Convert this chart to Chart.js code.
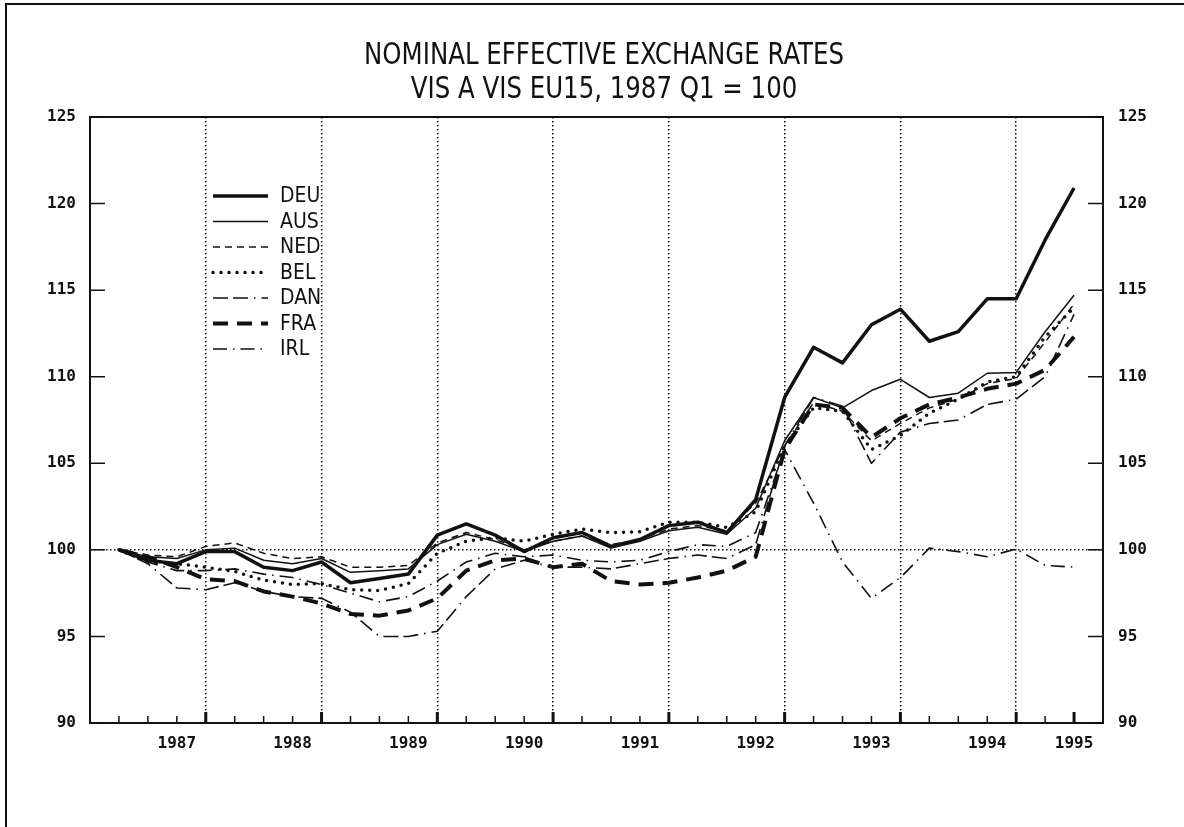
<!DOCTYPE html>
<html>
<head>
<meta charset="utf-8">
<script src="https://cdn.jsdelivr.net/npm/chart.js@4.4.0/dist/chart.umd.min.js"></script>
<style>
  html, body { margin: 0; padding: 0; background: #fff; }
  #wrap { position: relative; width: 1184px; height: 827px; }
</style>
</head>
<body>
<div id="wrap"><canvas id="neerChart" width="1184" height="827"></canvas></div>
<script>
// quarters, 1987 Q1 = 100
const quarters = [
  '1987Q1','1987Q2','1987Q3','1987Q4','1988Q1','1988Q2','1988Q3','1988Q4',
  '1989Q1','1989Q2','1989Q3','1989Q4','1990Q1','1990Q2','1990Q3','1990Q4',
  '1991Q1','1991Q2','1991Q3','1991Q4','1992Q1','1992Q2','1992Q3','1992Q4',
  '1993Q1','1993Q2','1993Q3','1993Q4','1994Q1','1994Q2','1994Q3','1994Q4',
  '1995Q1','1995Q2'
];
const yearLabels = ['1987','1988','1989','1990','1991','1992','1993','1994','1995'];
const yTicks = [90, 95, 100, 105, 110, 115, 120, 125];
const titleLines = ['NOMINAL EFFECTIVE EXCHANGE RATES', 'VIS A VIS EU15, 1987 Q1 = 100'];

const seriesNames = ['DEU', 'AUS', 'NED', 'BEL', 'DAN', 'FRA', 'IRL'];
const deu = [100, 99.4, 99.2, 99.9, 99.9, 99.0, 98.8, 99.3, 98.1, 98.35, 98.6, 100.85, 101.5, 100.85, 99.9, 100.7, 101.0, 100.2, 100.6, 101.4, 101.6, 101.0, 102.9, 108.8, 111.7, 110.8, 113.0, 113.9, 112.05, 112.6, 114.5, 114.5, 117.9, 120.9];
const aus = [100, 99.6, 99.5, 100.0, 100.1, 99.4, 99.2, 99.5, 98.7, 98.8, 98.9, 100.3, 100.9, 100.5, 99.9, 100.5, 100.8, 100.1, 100.5, 101.1, 101.3, 100.9, 102.4, 106.3, 108.8, 108.2, 109.2, 109.85, 108.8, 109.05, 110.2, 110.25, 112.6, 114.7];
const ned = [100, 99.7, 99.6, 100.2, 100.4, 99.8, 99.5, 99.6, 99.0, 99.0, 99.1, 100.4, 101.0, 100.6, 100.0, 100.5, 100.8, 100.3, 100.6, 101.2, 101.4, 101.1, 102.7, 106.0, 108.5, 108.0, 106.3, 107.3, 108.2, 108.7, 109.6, 109.9, 112.0, 114.2];
const bel = [100, 99.3, 99.2, 99.0, 98.75, 98.25, 98.0, 98.05, 97.7, 97.65, 98.05, 99.8, 100.5, 100.7, 100.5, 100.9, 101.2, 101.0, 101.05, 101.6, 101.6, 101.3, 102.2, 106.0, 108.2, 108.0, 105.8, 106.6, 107.9, 108.7, 109.7, 110.0, 112.3, 114.0];
const dan = [100, 99.2, 97.8, 97.7, 98.1, 97.6, 97.3, 97.2, 96.4, 95.0, 95.0, 95.3, 97.3, 98.9, 99.4, 99.0, 99.0, 98.9, 99.2, 99.5, 99.7, 99.5, 100.3, 106.0, 108.8, 108.3, 105.0, 106.8, 107.3, 107.5, 108.4, 108.7, 110.0, 113.6];
const fra = [100, 99.6, 99.0, 98.3, 98.2, 97.6, 97.3, 96.9, 96.3, 96.2, 96.5, 97.2, 98.8, 99.4, 99.5, 99.0, 99.2, 98.2, 98.0, 98.1, 98.4, 98.8, 99.6, 105.8, 108.4, 108.2, 106.5, 107.6, 108.4, 108.8, 109.3, 109.6, 110.4, 112.3];
const irl = [100, 99.3, 98.8, 98.8, 98.9, 98.6, 98.4, 98.0, 97.5, 97.0, 97.3, 98.2, 99.3, 99.8, 99.6, 99.7, 99.4, 99.3, 99.4, 99.9, 100.3, 100.2, 101.0, 105.8, 102.7, 99.3, 97.2, 98.4, 100.1, 99.9, 99.6, 100.05, 99.1, 99.0];
const seriesValues = [deu, aus, ned, bel, dan, fra, irl];

const lineStyles = [
  { width: 3.5, dash: [], cap: 'butt' },
  { width: 1.5, dash: [], cap: 'butt' },
  { width: 1.5, dash: [7, 5], cap: 'butt' },
  { width: 3.5, dash: [0, 8], cap: 'round' },
  { width: 1.6, dash: [15, 5, 15, 6, 1.5, 6], cap: 'butt' },
  { width: 4, dash: [15, 9], cap: 'butt' },
  { width: 1.6, dash: [14, 6, 1.5, 6], cap: 'butt' }
];

// year label sits on Q3, last label on the final quarter; year gridline on Q4
const yearTickAt = yearLabels.map(y => {
  const i = quarters.indexOf(y + 'Q3');
  return i >= 0 ? i : quarters.length - 1;
});
const isGridQuarter = i => quarters[i] && quarters[i].endsWith('Q4');

const tickFont = { family: '"DejaVu Sans Mono", "Liberation Mono", monospace', size: 16, weight: 'bold' };
const narrowFont = '"Liberation Sans Narrow", "DejaVu Sans Condensed", "Arial Narrow", sans-serif';

// title lines share one horizontal squeeze, taken from the first line
function drawTitle(ctx, lines, cx, y0, lineGap, size, firstWidth) {
  ctx.save();
  ctx.font = size + 'px ' + narrowFont;
  const k = firstWidth / ctx.measureText(lines[0]).width;
  ctx.textAlign = 'center';
  ctx.textBaseline = 'middle';
  lines.forEach((t, i) => {
    ctx.save();
    ctx.translate(cx, y0 + i * lineGap);
    ctx.scale(k, 1);
    ctx.fillText(t, 0, 0);
    ctx.restore();
  });
  ctx.restore();
}

const decor = {
  id: 'decor',
  afterDraw(chart) {
    const { ctx, chartArea: a, scales: { x, y } } = chart;
    ctx.save();
    ctx.strokeStyle = '#111';
    ctx.fillStyle = '#111';

    // outer frame
    ctx.lineWidth = 2;
    ctx.beginPath();
    ctx.moveTo(6, 827);
    ctx.lineTo(6, 4);
    ctx.lineTo(1184, 4);
    ctx.stroke();

    // plot box
    ctx.lineWidth = 2;
    ctx.strokeRect(a.left, a.top, a.right - a.left, a.bottom - a.top);

    // y ticks pointing inward on both sides
    ctx.lineWidth = 1.5;
    yTicks.forEach(v => {
      const py = y.getPixelForValue(v);
      ctx.beginPath();
      ctx.moveTo(a.left, py); ctx.lineTo(a.left + 15, py);
      ctx.moveTo(a.right, py); ctx.lineTo(a.right - 15, py);
      ctx.stroke();
    });

    // x ticks, heavier on year lines and on the last quarter
    quarters.forEach((q, i) => {
      const px = x.getPixelForValue(i);
      const major = isGridQuarter(i) || i === quarters.length - 1;
      ctx.lineWidth = major ? 3 : 1.5;
      ctx.beginPath();
      ctx.moveTo(px, a.bottom);
      ctx.lineTo(px, a.bottom - (major ? 11 : 7));
      ctx.stroke();
    });

    // legend, text clipped at the 1987 Q4 gridline as in the original
    const lx0 = 213, lx1 = 268, tx = 280, ly0 = 196, dy = 25.5;
    chart.data.datasets.forEach((ds, i) => {
      const ly = ly0 + i * dy;
      ctx.save();
      ctx.lineWidth = ds.borderWidth;
      ctx.setLineDash(ds.borderDash);
      ctx.lineCap = ds.borderCapStyle;
      ctx.beginPath();
      ctx.moveTo(lx0, ly); ctx.lineTo(lx1, ly);
      ctx.stroke();
      ctx.restore();
      ctx.save();
      ctx.beginPath();
      ctx.rect(tx - 2, ly - 16, x.getPixelForValue(7) - tx + 1, 32);
      ctx.clip();
      ctx.font = '21px ' + narrowFont;
      ctx.textAlign = 'left';
      ctx.textBaseline = 'middle';
      ctx.fillText(ds.label, tx, ly + 1);
      ctx.restore();
    });

    drawTitle(ctx, titleLines, 604, 56, 34, 30, 480);
    ctx.restore();
  }
};

new Chart(document.getElementById('neerChart'), {
  type: 'line',
  data: {
    datasets: seriesNames.map((name, s) => ({
      label: name,
      data: seriesValues[s].map((v, i) => ({ x: i, y: v })),
      borderColor: '#111',
      borderWidth: lineStyles[s].width,
      borderDash: lineStyles[s].dash,
      borderCapStyle: lineStyles[s].cap,
      borderJoinStyle: 'round',
      pointRadius: 0,
      fill: false,
      tension: 0,
      yAxisID: 'y'
    }))
  },
  options: {
    responsive: false,
    animation: false,
    layout: { padding: { top: 117, left: 0, right: 0, bottom: 0 } },
    plugins: {
      legend: { display: false },
      title: { display: false },
      tooltip: { enabled: false }
    },
    scales: {
      x: {
        type: 'linear',
        min: -1,
        max: 34,
        afterBuildTicks: axis => { axis.ticks = quarters.map((q, i) => ({ value: i })); },
        afterFit: axis => { axis.height = 104; },
        border: { display: false, dash: [1.5, 2.5] },
        grid: {
          drawTicks: false,
          lineWidth: 1.5,
          color: c => isGridQuarter(c.tick.value) ? '#111' : 'rgba(0,0,0,0)'
        },
        ticks: {
          autoSkip: false,
          maxRotation: 0,
          padding: 11,
          color: '#111',
          font: tickFont,
          callback: v => {
            const k = yearTickAt.indexOf(v);
            return k >= 0 ? yearLabels[k] : '';
          }
        }
      },
      y: {
        position: 'left',
        min: 90,
        max: 125,
        afterBuildTicks: axis => { axis.ticks = yTicks.map(v => ({ value: v })); },
        afterFit: axis => { axis.width = 90; },
        border: { display: false, dash: [1.5, 2.5] },
        grid: {
          drawTicks: false,
          lineWidth: 1.5,
          color: c => c.tick.value === 100 ? '#111' : 'rgba(0,0,0,0)'
        },
        ticks: { padding: 14, color: '#111', font: tickFont }
      },
      y2: {
        position: 'right',
        min: 90,
        max: 125,
        afterBuildTicks: axis => { axis.ticks = yTicks.map(v => ({ value: v })); },
        afterFit: axis => { axis.width = 81; },
        border: { display: false },
        grid: { display: false, drawTicks: false },
        ticks: { padding: 15, color: '#111', font: tickFont }
      }
    }
  },
  plugins: [decor]
});
</script>
</body>
</html>
